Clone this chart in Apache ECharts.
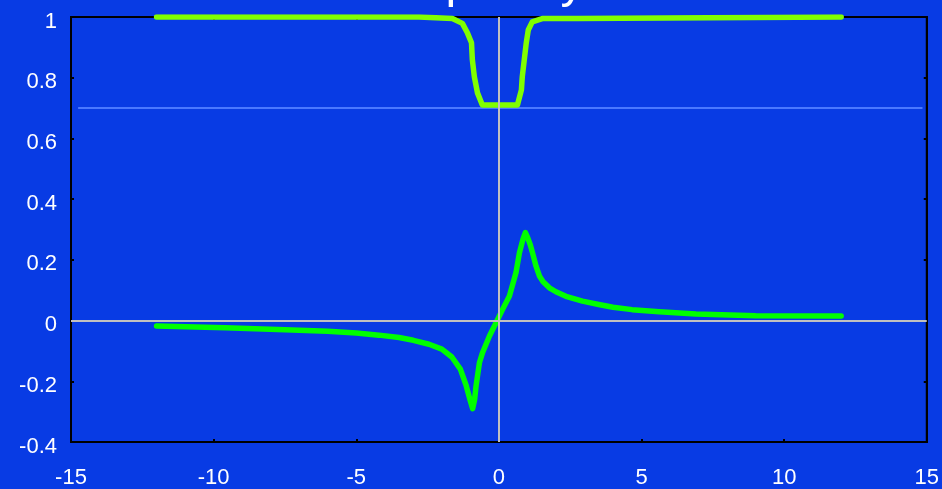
<!DOCTYPE html>
<html>
<head>
<meta charset="utf-8">
<script src="https://cdn.jsdelivr.net/npm/echarts@6/dist/echarts.min.js"></script>
<style>html,body{margin:0;padding:0;background:#083be4;}#c{width:942px;height:489px;}</style>
</head>
<body>
<div id="c"></div>
<script>
const titleText = 'Frequency';
const xTicks = { min: -15, max: 15, interval: 5 };
const yTicks = { min: -0.4, max: 1, interval: 0.2 };

const upperX = [-12, -2.8, -2.78, -1.63, -1.28, -1.1, -0.96, -0.93, -0.86, -0.75, -0.58, 0.65, 0.79, 0.82, 0.89, 0.96, 1.03, 1.17, 1.52, 2.75, 2.77, 12];
const upperY = [1, 1, 0.995, 0.995, 0.979, 0.947, 0.915, 0.859, 0.803, 0.75, 0.71, 0.71, 0.76, 0.803, 0.859, 0.915, 0.957, 0.984, 0.995, 0.995, 1, 1];

const lowerX = [-12, -9.6, -7.5, -6, -5, -4.2, -3.5, -3, -2.45, -2, -1.65, -1.35, -1.15, -1.0, -0.92, -0.85, -0.8, -0.68, -0.57, -0.33, -0.1, 0.13, 0.37, 0.6, 0.72, 0.85, 0.93, 1.0, 1.1, 1.18, 1.3, 1.42, 1.55, 1.77, 2.0, 2.35, 2.93, 3.5, 4.0, 4.67, 5.62, 6.91, 9.0, 12];
const lowerY = [-0.018, -0.024, -0.030, -0.035, -0.041, -0.048, -0.056, -0.065, -0.078, -0.094, -0.12, -0.16, -0.213, -0.265, -0.29, -0.26, -0.215, -0.138, -0.105, -0.051, -0.007, 0.037, 0.081, 0.158, 0.223, 0.27, 0.29, 0.275, 0.25, 0.223, 0.18, 0.147, 0.128, 0.108, 0.095, 0.080, 0.064, 0.053, 0.044, 0.036, 0.029, 0.022, 0.016, 0.015];

const refX = [-14.75, 14.85];
const refY = [0.7, 0.7];

const zip = (a, b) => a.map((v, i) => [v, b[i]]);

const chart = echarts.init(document.getElementById('c'));
const axisCommon = {
  type: 'value',
  axisLine: { show: true, onZero: false, lineStyle: { color: '#000', width: 2 } },
  axisTick: { show: true, inside: true, length: 3, lineStyle: { color: '#000', width: 2 } },
  splitLine: { show: false }
};
const font = 'Liberation Sans, Arial, sans-serif';
chart.setOption({
  backgroundColor: '#083be4',
  animation: false,
  title: {
    text: titleText, left: 'center', top: -40, padding: 0, z: -1,
    textStyle: { color: '#fff', fontSize: 48, fontWeight: 'normal', fontFamily: font }
  },
  grid: { left: 71, right: 14, top: 17, bottom: 46, show: true, backgroundColor: '#083be4', borderColor: '#000', borderWidth: 2, z: 0 },
  xAxis: [
    Object.assign({}, axisCommon, { position: 'bottom', min: xTicks.min, max: xTicks.max, interval: xTicks.interval,
      axisLabel: { color: '#fff', fontSize: 22, margin: 25, fontFamily: font } }),
    Object.assign({}, axisCommon, { position: 'top', min: xTicks.min, max: xTicks.max, interval: xTicks.interval, axisLabel: { show: false } })
  ],
  yAxis: [
    Object.assign({}, axisCommon, { position: 'left', min: yTicks.min, max: yTicks.max, interval: yTicks.interval,
      axisLabel: { color: '#fff', fontSize: 22, margin: 14, verticalAlign: 'top', lineHeight: 9, fontFamily: font } }),
    Object.assign({}, axisCommon, { position: 'right', min: yTicks.min, max: yTicks.max, interval: yTicks.interval, axisLabel: { show: false } })
  ],
  series: [
    { type: 'line', data: zip(refX, refY), showSymbol: false, silent: true, z: 1,
      lineStyle: { color: '#4a78ff', width: 2 } },
    { type: 'line', data: zip(upperX, upperY), showSymbol: false, z: 2,
      lineStyle: { color: '#80ff00', width: 5.5, cap: 'round', join: 'round' } },
    { type: 'line', data: [], z: 3, silent: true,
      markLine: { silent: true, symbol: 'none', label: { show: false },
        lineStyle: { color: '#c0c0c0', width: 2, type: 'solid' },
        data: [{ xAxis: 0 }, { yAxis: 0 }] } },
    { type: 'line', data: zip(lowerX, lowerY), showSymbol: false, z: 4,
      lineStyle: { color: '#00ff00', width: 5.5, cap: 'round', join: 'round' } }
  ]
});
</script>
</body>
</html>
